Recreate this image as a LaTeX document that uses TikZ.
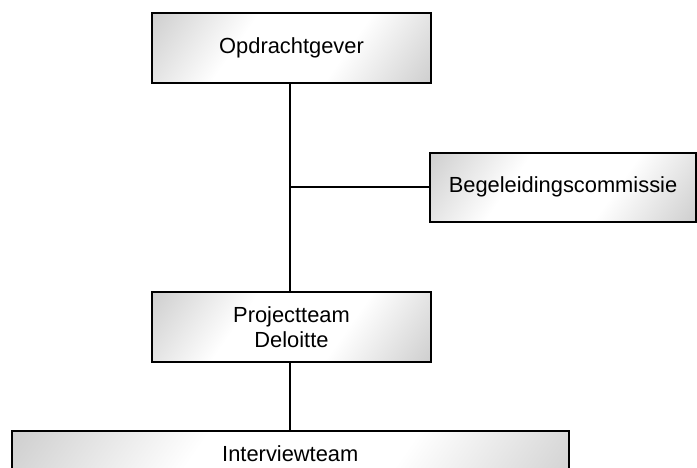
\documentclass[tikz,border=0pt]{standalone}
\usepackage{fontspec}
\setmainfont{Liberation Sans}
\pgfdeclarehorizontalshading{boxshade}{100bp}{color(0bp)=(black!32); color(38bp)=(white); color(62bp)=(white); color(100bp)=(black!32)}
\begin{document}
\begin{tikzpicture}[x=0.75pt,y=-0.75pt,
  orgbox/.style={draw=black, line width=1.5pt, shading=boxshade, shading angle=-35,
    inner sep=0pt, align=center, font=\fontsize{16.4pt}{18.5pt}\selectfont},
  link/.style={draw=black, line width=1.5pt}]
\clip (0,0) rectangle (697,468);
\useasboundingbox (0,0) rectangle (697,468);
\node[orgbox, minimum width=209.25pt, minimum height=52.5pt] (opd) at (291.5,48) {Opdrachtgever};
\node[orgbox, minimum width=199.5pt, minimum height=51.75pt] (beg) at (563,187) {Begeleidingscommissie};
\node[orgbox, minimum width=209.25pt, minimum height=52.5pt] (pro) at (291.5,327) {Projectteam\\Deloitte};
\node[orgbox, minimum width=417.75pt, minimum height=52.5pt] (int) at (290.3,466) {};
\node[font=\fontsize{16.4pt}{18pt}\selectfont] (intlabel) at (290.3,454) {Interviewteam};
\coordinate (top) at (290,83);
\coordinate (low) at (290,292);
\path[link] (top) -- (low);
\path[link] (beg.west -| top) -- (beg.west);
\path[link] (pro.south -| low) -- (int.north -| low);
\end{tikzpicture}
\end{document}
